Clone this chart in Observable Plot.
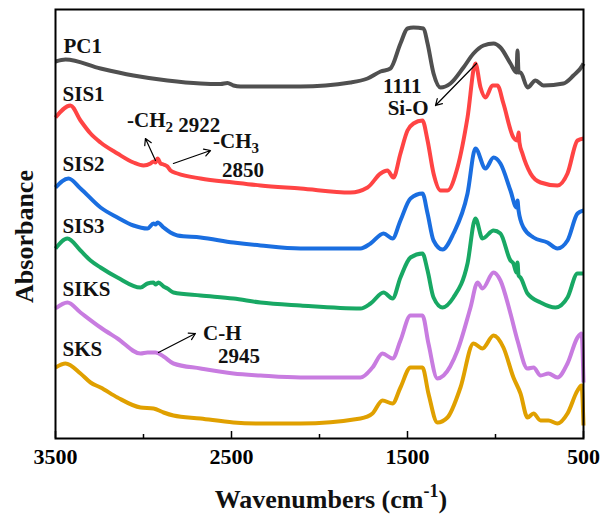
<!DOCTYPE html>
<html><head><meta charset="utf-8">
<script src="https://cdn.jsdelivr.net/npm/d3@7"></script>
<script src="https://cdn.jsdelivr.net/npm/@observablehq/plot@0.6"></script>
<style>body{margin:0;background:#fff} #chart{width:602px;height:515px}</style>
</head><body><div id="chart"></div>
<script>
// [wavenumber (cm-1), absorbance (offset, a.u.)]
const PC1 = [[3500,3.77],[3443,3.79],[3244,3.70],[3057,3.63],[2864,3.58],[2676,3.55],[2562,3.545],[2523,3.555],[2489,3.53],[2449,3.52],[2108,3.52],[1824,3.56],[1727,3.60],[1653,3.67],[1597,3.70],[1540,3.95],[1500,4.10],[1466,4.11],[1409,4.10],[1386,3.95],[1352,3.65],[1312,3.51],[1256,3.55],[1182,3.71],[1125,3.85],[1068,3.93],[1011,3.95],[972,3.91],[915,3.75],[881,3.66],[875,3.88],[869,3.66],[858,3.66],[818,3.51],[773,3.58],[727,3.53],[614,3.55],[557,3.63],[506,3.73],[500,3.75]];
const SIS1 = [[3500,3.21],[3415,3.33],[3358,3.18],[3301,3.05],[3244,2.96],[3148,2.85],[3057,2.76],[3000,2.73],[2960,2.75],[2943,2.77],[2932,2.76],[2920,2.80],[2903,2.75],[2886,2.74],[2864,2.72],[2847,2.68],[2807,2.65],[2676,2.60],[2489,2.56],[2335,2.53],[2108,2.50],[1824,2.46],[1727,2.51],[1653,2.65],[1614,2.68],[1580,2.61],[1540,2.85],[1500,3.08],[1466,3.15],[1415,3.18],[1386,2.98],[1352,2.65],[1312,2.48],[1273,2.48],[1216,2.71],[1159,3.21],[1114,3.75],[1085,3.51],[1057,3.41],[1017,3.53],[989,3.53],[955,3.35],[898,3.01],[875,2.98],[869,3.06],[864,2.96],[847,2.85],[801,2.65],[744,2.56],[648,2.53],[591,2.65],[534,2.98],[500,3.00]];
const SIS2 = [[3500,2.51],[3426,2.60],[3358,2.50],[3244,2.31],[3148,2.21],[3057,2.13],[2977,2.10],[2943,2.15],[2932,2.14],[2920,2.16],[2886,2.11],[2847,2.06],[2807,2.03],[2676,2.01],[2489,1.96],[2335,1.93],[2108,1.90],[1767,1.90],[1710,1.95],[1636,2.05],[1585,2.00],[1540,2.18],[1483,2.40],[1415,2.45],[1386,2.25],[1352,1.98],[1301,1.89],[1239,2.05],[1159,2.45],[1114,2.90],[1057,2.70],[1011,2.81],[972,2.75],[915,2.48],[881,2.31],[875,2.38],[869,2.28],[841,2.11],[784,2.01],[705,1.96],[648,1.90],[591,1.98],[534,2.25],[500,2.28]];
const SIS3 = [[3500,1.90],[3432,2.00],[3358,1.88],[3301,1.78],[3244,1.71],[3148,1.61],[3017,1.51],[2977,1.55],[2943,1.56],[2932,1.54],[2915,1.56],[2886,1.52],[2864,1.50],[2830,1.46],[2676,1.43],[2489,1.40],[2335,1.36],[2108,1.33],[1767,1.30],[1710,1.35],[1636,1.46],[1585,1.40],[1540,1.61],[1483,1.81],[1415,1.85],[1386,1.68],[1352,1.41],[1301,1.31],[1239,1.41],[1159,1.75],[1114,2.20],[1074,2.00],[1011,2.08],[972,2.05],[915,1.78],[898,1.75],[881,1.66],[875,1.76],[869,1.63],[858,1.61],[818,1.45],[744,1.36],[659,1.31],[591,1.41],[534,1.65],[500,1.65]];
const SIKS = [[3500,1.30],[3432,1.36],[3358,1.26],[3244,1.11],[3148,1.00],[3017,0.85],[2977,0.86],[2932,0.86],[2886,0.82],[2830,0.75],[2676,0.70],[2489,0.65],[2335,0.63],[2108,0.61],[1767,0.61],[1699,0.71],[1642,0.85],[1585,0.80],[1540,0.98],[1483,1.23],[1415,1.23],[1381,0.95],[1330,0.60],[1295,0.63],[1216,0.88],[1142,1.31],[1102,1.56],[1074,1.50],[1011,1.66],[972,1.58],[915,1.25],[875,0.98],[818,0.70],[784,0.71],[744,0.63],[699,0.65],[648,0.61],[591,0.75],[534,1.01],[511,1.05],[500,0.56]];
const SKS = [[3500,0.71],[3443,0.75],[3358,0.65],[3301,0.56],[3244,0.51],[3148,0.41],[3017,0.31],[2943,0.30],[2886,0.26],[2830,0.23],[2676,0.20],[2489,0.16],[2335,0.15],[2108,0.15],[1767,0.20],[1699,0.25],[1642,0.38],[1585,0.35],[1540,0.51],[1483,0.71],[1415,0.71],[1381,0.45],[1330,0.16],[1273,0.21],[1199,0.51],[1125,0.95],[1074,0.90],[1011,1.03],[955,0.91],[898,0.61],[858,0.45],[818,0.21],[784,0.25],[744,0.18],[699,0.18],[648,0.15],[591,0.25],[534,0.48],[511,0.53],[500,0.13]];

const seriesNames = ["PC1", "SIS1", "SIS2", "SIS3", "SIKS", "SKS"];
const seriesData = [PC1, SIS1, SIS2, SIS3, SIKS, SKS];
const seriesColors = ["#505050", "#ff4444", "#1a6ee0", "#18a864", "#c87ce0", "#e0a000"];
const seriesLabelPos = [[3455, 3.86], [3460, 3.38], [3460, 2.68], [3460, 2.06], [3460, 1.43], [3460, 0.83]];

const majorTicks = [3500, 2500, 1500, 500];
const minorTicks = [3000, 2000, 1000];
const xTitle = ["Wavenumbers (cm", "-1", ")"];
const yTitle = "Absorbance";

// annotations: text parts (sub = subscript), anchor [wavenumber, absorbance]
const annotations = [
  {parts: [["-CH"], ["2", "sub"], [" 2922"]], at: [3091, 3.11]},
  {parts: [["-CH"], ["3", "sub"]], at: [2602, 2.90]},
  {parts: [["2850"]], at: [2551, 2.61]},
  {parts: [["1111"]], at: [1636, 3.45]},
  {parts: [["Si-O"]], at: [1610, 3.23]},
  {parts: [["C-H"]], at: [2659, 0.98]},
  {parts: [["2945"]], at: [2574, 0.75]}
];
// arrows: [from wavenumber, from absorbance, to wavenumber, to absorbance]
const arrows = [
  [2932, 2.78, 2989, 3.00],
  [2830, 2.75, 2619, 2.88],
  [1108, 3.75, 1341, 3.33],
  [2915, 0.86, 2705, 1.05]
];

const font = "'Liberation Serif', 'Times New Roman', serif";

const lineMarks = seriesData.map((data, i) =>
  Plot.line(data, {x: d => d[0], y: d => d[1], stroke: seriesColors[i], strokeWidth: 4,
    curve: "monotone-x", strokeLinejoin: "round", strokeLinecap: "butt"}));

const labelData = seriesNames.map((name, i) => ({name, w: seriesLabelPos[i][0], a: seriesLabelPos[i][1]}));

const plot = Plot.plot({
  width: 602, height: 515,
  marginLeft: 55, marginRight: 19, marginTop: 9, marginBottom: 77,
  x: {domain: [3500, 500]},
  y: {domain: [0, 4.29], axis: null},
  style: {fontFamily: font, background: "white", overflow: "visible"},
  marks: [
    ...lineMarks,
    Plot.frame({stroke: "black", strokeWidth: 2}),
    Plot.tickX(majorTicks, {x: d => d, insetTop: 422, stroke: "black", strokeWidth: 1.5}),
    Plot.tickX(minorTicks, {x: d => d, insetTop: 425, stroke: "black", strokeWidth: 1.5}),
    Plot.axisX(majorTicks, {tickSize: 0, tickPadding: 10, fontSize: 22, fontWeight: "bold",
      tickFormat: d => String(d), label: null, fill: "black"}),
    Plot.text(labelData, {x: "w", y: "a", text: "name", textAnchor: "start", lineAnchor: "bottom",
      fontSize: 21, fontWeight: "bold", fill: "#111"}),
    Plot.arrow(arrows, {x1: d => d[0], y1: d => d[1], x2: d => d[2], y2: d => d[3],
      stroke: "black", strokeWidth: 1.2, headLength: 9, bend: 0})
  ]
});
document.getElementById("chart").appendChild(plot);

const sx = plot.scale("x"), sy = plot.scale("y");
const svg = d3.select(plot);

// annotations with subscripts
for (const ann of annotations) {
  const t = svg.append("text")
    .attr("x", sx.apply(ann.at[0])).attr("y", sy.apply(ann.at[1]))
    .attr("text-anchor", "start")
    .attr("font-family", font).attr("font-weight", "bold").attr("font-size", 21)
    .attr("fill", "#111");
  for (const [str, kind] of ann.parts) {
    if (kind === "sub") {
      t.append("tspan").attr("dy", 5).attr("font-size", 15).text(str);
      t.append("tspan").attr("dy", -5).text("");
    } else {
      t.append("tspan").text(str);
    }
  }
}

// x-axis title with superscript
const xt = svg.append("text")
  .attr("x", sx.apply(1932)).attr("y", 508)
  .attr("text-anchor", "middle")
  .attr("font-family", font).attr("font-weight", "bold").attr("font-size", 26).attr("fill", "#111");
xt.append("tspan").text(xTitle[0]);
xt.append("tspan").attr("dy", -11).attr("font-size", 18).text(xTitle[1]);
xt.append("tspan").attr("dy", 11).text(xTitle[2]);

// y-axis title
svg.append("text")
  .attr("transform", `translate(33,${(sy.apply(0) + sy.apply(4.29)) / 2 + 13}) rotate(-90)`)
  .attr("text-anchor", "middle")
  .attr("font-family", font).attr("font-weight", "bold").attr("font-size", 26).attr("fill", "#111")
  .text(yTitle);
</script>
</body></html>
